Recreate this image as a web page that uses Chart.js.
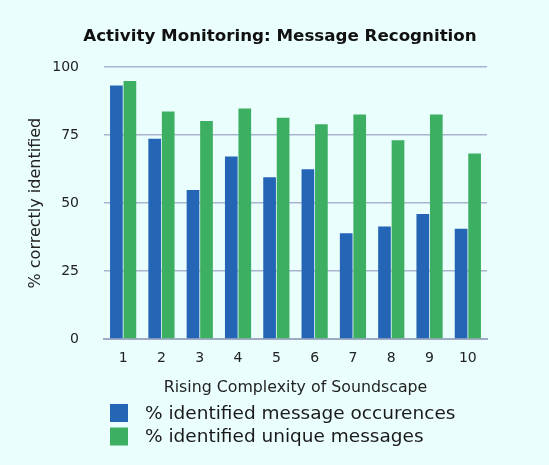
<!DOCTYPE html>
<html>
<head>
<meta charset="utf-8">
<script src="https://cdn.jsdelivr.net/npm/chart.js@4"></script>
<style>
  html, body { margin: 0; padding: 0; background: #eafefe; }
  #wrap { position: relative; width: 549px; height: 465px; }
</style>
</head>
<body>
<div id="wrap"><canvas id="chart"></canvas></div>
<script>
// values
const categories = ['1', '2', '3', '4', '5', '6', '7', '8', '9', '10'];
const occurrences = [93.3, 73.7, 54.8, 67.2, 59.5, 62.5, 38.9, 41.4, 46.0, 40.6];
const uniqueMessages = [94.9, 83.7, 80.2, 84.8, 81.4, 79.0, 82.6, 73.1, 82.6, 68.3];
const yTicks = [0, 25, 50, 75, 100];

const fontFamily = '"DejaVu Sans", Verdana, sans-serif';

// the legend sits in two rows under the axis title, left aligned
const stackedLegend = {
  id: 'stackedLegend',
  afterDraw(chart) {
    const ctx = chart.ctx;
    ctx.save();
    ctx.font = '18.5px ' + fontFamily;
    ctx.textBaseline = 'middle';
    chart.data.datasets.forEach((ds, i) => {
      const y = 413 + i * 23.5;
      ctx.fillStyle = ds.backgroundColor;
      ctx.fillRect(110, y - 9, 18, 18);
      ctx.fillStyle = '#1a1a1a';
      ctx.fillText(ds.label, 145, y + 1);
    });
    ctx.restore();
  }
};

const chart = new Chart(document.getElementById('chart'), {
  type: 'bar',
  data: {
    labels: categories,
    datasets: [
      {
        label: '% identified message occurences',
        data: occurrences,
        backgroundColor: '#2565b5',
        barPercentage: 0.94,
        categoryPercentage: 0.705
      },
      {
        label: '% identified unique messages',
        data: uniqueMessages,
        backgroundColor: '#3daf62',
        barPercentage: 0.94,
        categoryPercentage: 0.705
      }
    ]
  },
  options: {
    responsive: true,
    maintainAspectRatio: false,
    animation: false,
    layout: { padding: { left: 26.4, right: 15.4, top: 0, bottom: 67.6 } },
    plugins: {
      legend: { display: false },
      tooltip: { enabled: false },
      title: {
        display: true,
        text: 'Activity Monitoring: Message Recognition',
        color: '#111',
        font: { family: fontFamily, size: 16.7, weight: 'bold' },
        padding: { top: 27.1, bottom: 20.1 }
      }
    },
    scales: {
      x: {
        afterFit(scale) { scale.height = 58.4; },
        grid: { display: false, drawTicks: false },
        border: { color: '#a0abc3', width: 2 },
        ticks: { color: '#222', font: { family: fontFamily, size: 14 }, padding: 11 },
        title: {
          display: true,
          text: 'Rising Complexity of Soundscape',
          color: '#222',
          font: { family: fontFamily, size: 15.8 },
          padding: { top: 0, bottom: 0 }
        }
      },
      y: {
        min: 0,
        max: 100,
        afterFit(scale) { scale.width = 77.6; },
        afterBuildTicks(scale) {
          scale.ticks = yTicks.map(v => ({ value: v }));
        },
        grid: { color: '#aab4cc', drawTicks: false, lineWidth: 1.5 },
        border: { display: false },
        ticks: { color: '#222', font: { family: fontFamily, size: 14 }, padding: 25 },
        title: {
          display: true,
          text: '% correctly identified',
          color: '#222',
          font: { family: fontFamily, size: 16 },
          padding: { top: 0, bottom: 0 }
        }
      },
      // empty right-hand margin, so the title centres where the original does
      yRight: {
        type: 'linear',
        position: 'right',
        min: 0,
        max: 100,
        afterFit(scale) { scale.width = 46.6; },
        grid: { display: false },
        border: { display: false },
        ticks: { display: false }
      }
    }
  },
  plugins: [stackedLegend]
});
</script>
</body>
</html>
